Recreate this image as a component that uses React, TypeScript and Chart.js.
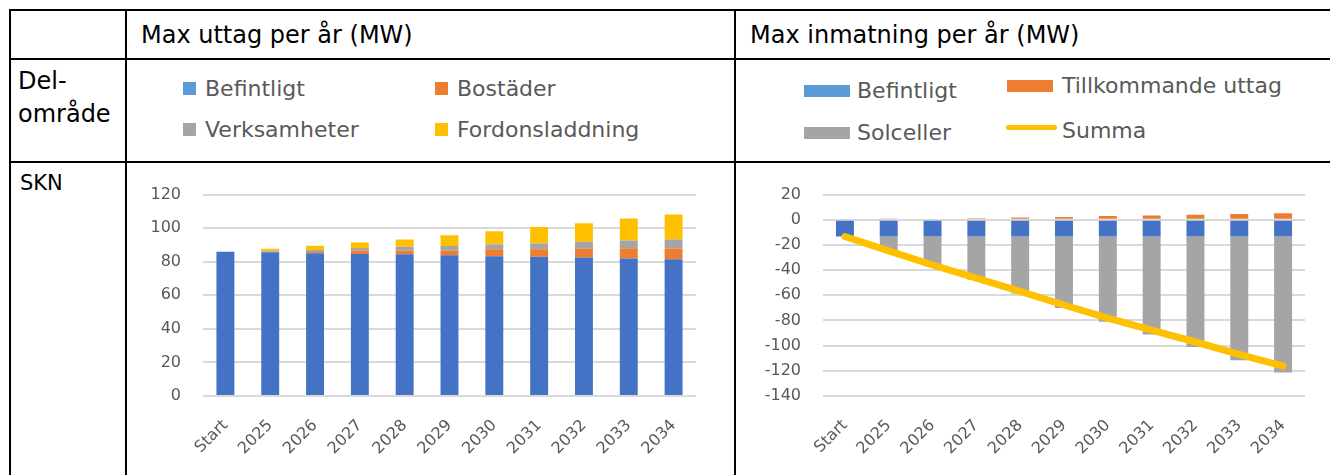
import React, { useEffect, useRef } from "react";
import { Chart, registerables } from "chart.js";

Chart.register(...registerables);

// ---------- data ----------
const categories = ["Start", "2025", "2026", "2027", "2028", "2029", "2030", "2031", "2032", "2033", "2034"];

// Max uttag per år (MW)
const uttagNames = ["Befintligt", "Bostäder", "Verksamheter", "Fordonsladdning"];
const uttagBefintligt = [86.0, 85.6, 85.0, 84.6, 84.4, 83.8, 83.3, 82.9, 82.5, 81.9, 81.5];
const uttagBostader = [0, 0.4, 0.8, 2.0, 2.3, 2.9, 4.1, 4.5, 5.3, 6.1, 6.4];
const uttagVerksamheter = [0, 0.6, 1.2, 1.6, 2.3, 2.7, 2.9, 3.5, 4.1, 4.7, 5.3];
const uttagFordonsladdning = [0, 1.1, 2.5, 3.3, 4.3, 6.4, 7.8, 9.8, 11.1, 13.1, 15.0];
const uttagTicks = [0, 20, 40, 60, 80, 100, 120];

// Max inmatning per år (MW)
const inmatNames = ["Befintligt", "Tillkommande uttag", "Solceller", "Summa"];
const inmatBefintligt = [-13.3, -13.3, -13.3, -13.3, -13.3, -13.3, -13.3, -13.3, -13.3, -13.3, -13.3];
const inmatTillkommande = [0, 0.6, 0.8, 1.3, 1.8, 2.3, 2.9, 3.4, 3.9, 4.6, 5.2];
const inmatSolceller = [0, -12.0, -23.4, -34.4, -45.3, -56.7, -67.7, -77.8, -87.7, -98.2, -108.1];
const inmatSumma = [-13.3, -24.7, -35.9, -46.4, -56.8, -67.7, -78.1, -87.7, -97.1, -106.9, -116.2];
const inmatTicks = [-140, -120, -100, -80, -60, -40, -20, 0, 20];

// ---------- styles ----------
const FONT = "'DejaVu Sans', sans-serif";
const BLUE = "#4472C4";
const BLUE_LEGEND = "#5B9BD5";
const ORANGE = "#ED7D31";
const GREY = "#A5A5A5";
const YELLOW = "#FFC000";
const TEXT_GREY = "#595959";
const GRID = "#D9D9D9";

const uttagColors = [BLUE, ORANGE, GREY, YELLOW];
const uttagLegendColors = [BLUE_LEGEND, ORANGE, GREY, YELLOW];
const inmatColors = [BLUE, ORANGE, GREY, YELLOW];
const inmatLegendColors = [BLUE_LEGEND, ORANGE, GREY, YELLOW];

function ChartCanvas(props: { left: number; top: number; width: number; height: number; build: () => any }) {
  const ref = useRef<HTMLCanvasElement>(null);
  useEffect(() => {
    const chart = new Chart(ref.current as HTMLCanvasElement, props.build());
    return () => chart.destroy();
  }, []);
  return (
    <canvas
      ref={ref}
      width={props.width}
      height={props.height}
      style={{ position: "absolute", left: props.left, top: props.top, width: props.width, height: props.height }}
    />
  );
}

function axisOptions(ticksArr: number[], yWidth: number, xHeight: number) {
  return {
    x: {
      stacked: true,
      grid: { display: false },
      border: { display: false },
      ticks: {
        autoSkip: false,
        minRotation: 45,
        maxRotation: 45,
        padding: 12,
        color: TEXT_GREY,
        font: { family: FONT, size: 16 },
      },
      afterFit: (s: any) => {
        s.height = xHeight;
      },
    },
    y: {
      stacked: true,
      min: ticksArr[0],
      max: ticksArr[ticksArr.length - 1],
      afterBuildTicks: (s: any) => {
        s.ticks = ticksArr.map((v) => ({ value: v }));
      },
      grid: { color: GRID, lineWidth: 2, drawTicks: false },
      border: { display: false },
      ticks: {
        padding: 22,
        color: TEXT_GREY,
        font: { family: FONT, size: 16 },
      },
      afterFit: (s: any) => {
        s.width = yWidth;
      },
    },
  };
}

function buildUttag() {
  const series = [uttagBefintligt, uttagBostader, uttagVerksamheter, uttagFordonsladdning];
  return {
    type: "bar",
    data: {
      labels: categories,
      datasets: series.map((d, i) => ({
        label: uttagNames[i],
        data: d,
        backgroundColor: uttagColors[i],
        borderWidth: 0,
        categoryPercentage: 1,
        barPercentage: 0.4,
      })),
    },
    options: {
      animation: false,
      responsive: false,
      maintainAspectRatio: false,
      layout: { padding: { top: 28, right: 38, left: 0, bottom: 0 } },
      plugins: { legend: { display: false }, tooltip: { enabled: false } },
      scales: axisOptions(uttagTicks, 76, 79),
    },
  };
}

function buildInmat() {
  const bars = [inmatBefintligt, inmatTillkommande, inmatSolceller];
  return {
    type: "bar",
    data: {
      labels: categories,
      datasets: [
        ...bars.map((d, i) => ({
          type: "bar",
          label: inmatNames[i],
          data: d,
          backgroundColor: inmatColors[i],
          borderWidth: 0,
          categoryPercentage: 1,
          barPercentage: 0.41,
          order: 1,
        })),
        {
          type: "line",
          label: inmatNames[3],
          data: inmatSumma,
          borderColor: inmatColors[3],
          backgroundColor: inmatColors[3],
          borderWidth: 7,
          borderCapStyle: "round",
          borderJoinStyle: "round",
          pointRadius: 0,
          tension: 0,
          fill: false,
          stack: "summa",
          order: 0,
        },
      ],
    },
    options: {
      animation: false,
      responsive: false,
      maintainAspectRatio: false,
      layout: { padding: { top: 28, right: 25, left: 0, bottom: 0 } },
      plugins: { legend: { display: false }, tooltip: { enabled: false } },
      scales: axisOptions(inmatTicks, 86, 79),
    },
  };
}

function Txt(props: { x: number; cy: number; size: number; color: string; text: string; lh?: number }) {
  const lh = props.lh ?? 30;
  return (
    <div
      style={{
        position: "absolute",
        left: props.x,
        top: props.cy - lh / 2,
        height: lh,
        lineHeight: lh + "px",
        fontSize: props.size,
        fontFamily: FONT,
        color: props.color,
        whiteSpace: "nowrap",
      }}
    >
      {props.text}
    </div>
  );
}

function Rect(props: { x: number; y: number; w: number; h: number; color: string; radius?: number }) {
  return (
    <div
      style={{
        position: "absolute",
        left: props.x,
        top: props.y,
        width: props.w,
        height: props.h,
        background: props.color,
        borderRadius: props.radius ?? 0,
      }}
    />
  );
}

export default function App() {
  const lineColor = "#000";
  // legend layout (left)
  const uttagPos = [
    { sx: 183, cy: 88.5 },
    { sx: 435, cy: 88.5 },
    { sx: 183, cy: 129.5 },
    { sx: 435, cy: 129.5 },
  ];
  return (
    <div style={{ position: "absolute", left: 0, top: 0, width: 1330, height: 475, overflow: "hidden", background: "#fff" }}>
      {/* table lines */}
      <Rect x={9} y={9} w={1321} h={2} color={lineColor} />
      <Rect x={9} y={58} w={1321} h={2} color={lineColor} />
      <Rect x={9} y={161} w={1321} h={2} color={lineColor} />
      <Rect x={9} y={9} w={2} h={466} color={lineColor} />
      <Rect x={125} y={9} w={2} h={466} color={lineColor} />
      <Rect x={734} y={9} w={2} h={466} color={lineColor} />

      {/* header texts */}
      <Txt x={141} cy={35} size={24} color="#000" text="Max uttag per år (MW)" />
      <Txt x={750} cy={35} size={24} color="#000" text="Max inmatning per år (MW)" />
      <Txt x={18} cy={81} size={24} color="#000" text="Del-" />
      <Txt x={18} cy={114} size={24} color="#000" text="område" />
      <Txt x={20} cy={183} size={21} color="#000" text="SKN" />

      {/* left legend */}
      {uttagNames.map((n, i) => (
        <React.Fragment key={"ul" + i}>
          <Rect x={uttagPos[i].sx} y={uttagPos[i].cy - 6.5} w={13} h={13} color={uttagLegendColors[i]} />
          <Txt x={uttagPos[i].sx + 22} cy={uttagPos[i].cy} size={22} color={TEXT_GREY} text={n} />
        </React.Fragment>
      ))}

      {/* right legend */}
      <Rect x={804} y={85} w={46} h={12} color={inmatLegendColors[0]} />
      <Txt x={857} cy={91} size={22} color={TEXT_GREY} text={inmatNames[0]} />
      <Rect x={1007} y={80} w={46} h={12} color={inmatLegendColors[1]} />
      <Txt x={1062} cy={86} size={22} color={TEXT_GREY} text={inmatNames[1]} />
      <Rect x={804} y={127} w={46} h={12} color={inmatLegendColors[2]} />
      <Txt x={857} cy={133} size={22} color={TEXT_GREY} text={inmatNames[2]} />
      <Rect x={1006} y={124.5} w={51} h={5} radius={3} color={inmatLegendColors[3]} />
      <Txt x={1062} cy={131} size={22} color={TEXT_GREY} text={inmatNames[3]} />

      {/* charts */}
      <ChartCanvas left={127} top={163} width={607} height={312} build={buildUttag} />
      <ChartCanvas left={737} top={163} width={593} height={312} build={buildInmat} />
    </div>
  );
}
